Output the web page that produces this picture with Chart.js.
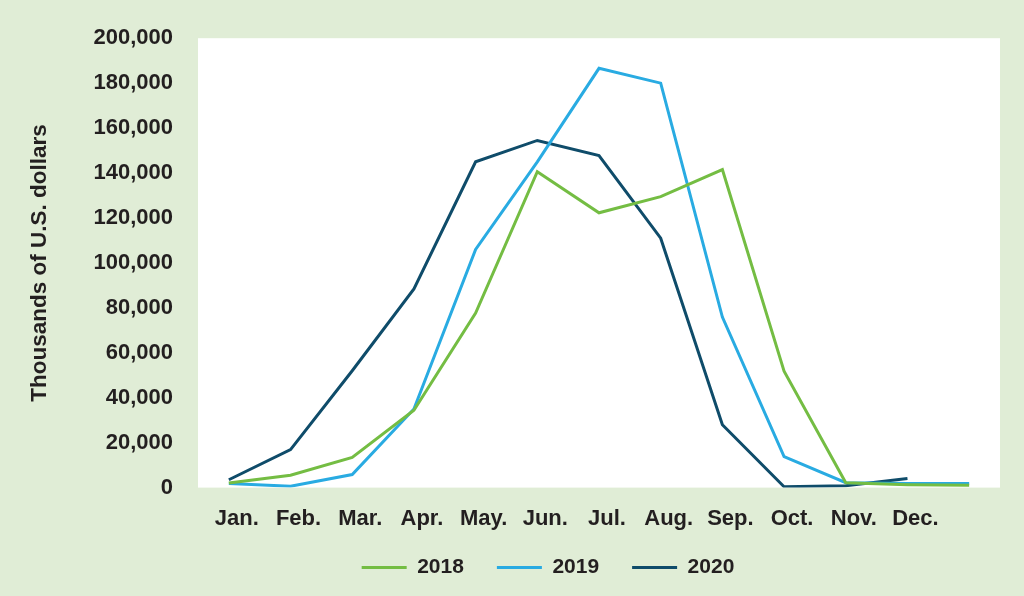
<!DOCTYPE html>
<html>
<head>
<meta charset="utf-8">
<script src="https://cdn.jsdelivr.net/npm/chart.js@4"></script>
<style>
    html, body { margin: 0; padding: 0; background: #e0edd6; }
    #wrap { width: 1024px; height: 596px; }
</style>
</head>
<body>
<div id="wrap"><canvas id="tradeChart" width="1024" height="596"></canvas></div>
<script>
const months = ["Jan.", "Feb.", "Mar.", "Apr.", "May.", "Jun.", "Jul.", "Aug.", "Sep.", "Oct.", "Nov.", "Dec.", ""];
const values2018 = [2000, 5500, 13400, 34400, 77700, 140600, 122300, 129500, 141500, 51800, 2200, 1300, 1000];
const values2019 = [1800, 600, 5800, 35000, 106000, 145000, 186600, 180000, 75900, 13800, 2200, 1800, 1800];
const values2020 = [3500, 16900, 52000, 88400, 145000, 154500, 147800, 111000, 28000, 400, 800, 4000];
const yTicks = [0, 20000, 40000, 60000, 80000, 100000, 120000, 140000, 160000, 180000, 200000];

const textColor = "#231f20";
const fontFamily = "'Liberation Sans', Arial, sans-serif";

// white plot area on the green page
const plotBackground = {
    id: "plotBackground",
    beforeDraw(chart) {
        const { ctx, chartArea } = chart;
        ctx.save();
        ctx.fillStyle = "#ffffff";
        ctx.fillRect(chartArea.left, chartArea.top, chartArea.right - chartArea.left, chartArea.bottom - chartArea.top);
        ctx.restore();
    },
};

// nudge the legend up and a bit right, like the original
const legendNudge = {
    id: "legendNudge",
    afterLayout(chart) {
        const lg = chart.legend;
        if (!lg) return;
        lg.top -= 26;
        lg.bottom -= 26;
        lg.left += 48;
        lg.right += 48;
    },
};

function series(label, data, color) {
    return {
        label: label,
        data: data,
        borderColor: color,
        backgroundColor: color,
        borderWidth: 3,
        pointRadius: 0,
        tension: 0,
        fill: false,
    };
}

const ctx = document.getElementById("tradeChart").getContext("2d");
new Chart(ctx, {
    type: "line",
    data: {
        labels: months,
        datasets: [
            series("2018", values2018, "#74bd43"),
            series("2019", values2019, "#29abe2"),
            series("2020", values2020, "#0f4c6a"),
        ],
    },
    plugins: [plotBackground, legendNudge],
    options: {
        responsive: false,
        animation: false,
        layout: { padding: { top: 38, right: 24, left: 0, bottom: -18 } },
        plugins: {
            tooltip: { enabled: false },
            legend: {
                position: "bottom",
                labels: {
                    boxWidth: 45,
                    boxHeight: 3,
                    padding: 33,
                    color: textColor,
                    font: { family: fontFamily, size: 21, weight: "bold" },
                    // thin line swatches, no outline
                    generateLabels(chart) {
                        const items = Chart.defaults.plugins.legend.labels.generateLabels(chart);
                        items.forEach((item) => { item.lineWidth = 0; });
                        return items;
                    },
                },
            },
        },
        scales: {
            x: {
                offset: true,
                grid: { display: false, drawTicks: false },
                border: { display: false },
                ticks: {
                    color: textColor,
                    font: { family: fontFamily, size: 22, weight: "bold" },
                    padding: 18,
                    labelOffset: 8,
                    maxRotation: 0,
                    autoSkip: false,
                },
            },
            y: {
                min: 0,
                max: 200000,
                grid: { display: false, drawTicks: false },
                border: { display: false },
                afterBuildTicks(scale) {
                    scale.ticks = yTicks.map((v) => ({ value: v }));
                },
                afterFit(scale) {
                    scale.width = 198;
                },
                ticks: {
                    color: textColor,
                    font: { family: fontFamily, size: 22, weight: "bold" },
                    padding: 25,
                    callback: (v) => v.toLocaleString("en-US"),
                },
                title: {
                    display: true,
                    text: "Thousands of U.S. dollars",
                    color: textColor,
                    font: { family: fontFamily, size: 22.5, weight: "bold" },
                    padding: { top: 26, bottom: 0 },
                },
            },
        },
    },
});
</script>
</body>
</html>
